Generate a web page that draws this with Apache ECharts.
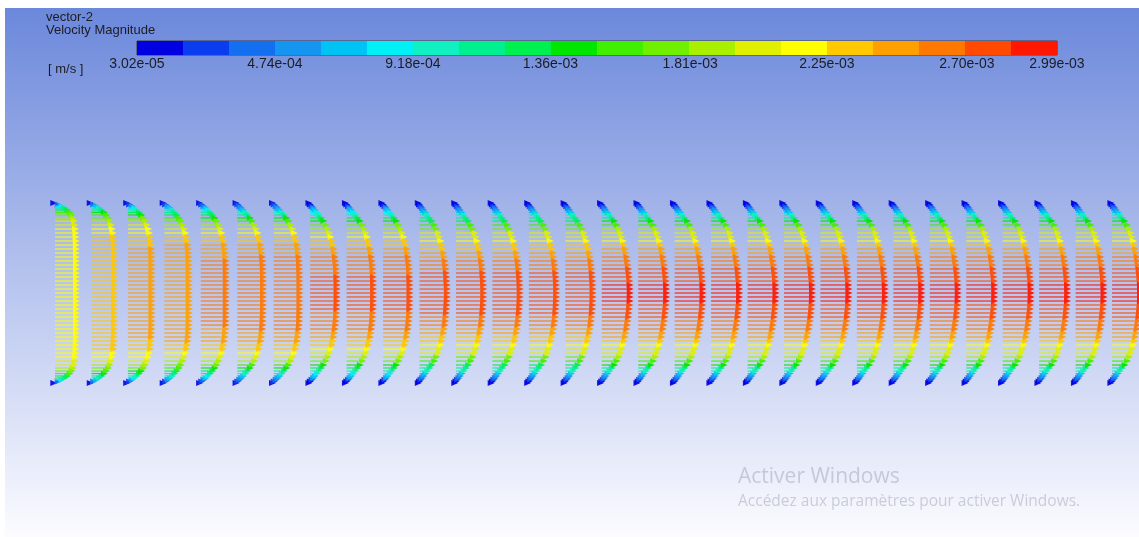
<!DOCTYPE html>
<html>
<head>
<meta charset="utf-8">
<title>vector-2 — Velocity Magnitude</title>
<script src="https://cdn.jsdelivr.net/npm/echarts@6/dist/echarts.min.js"></script>
<style>
  html, body { margin: 0; padding: 0; background: #ffffff; }
  #chart { width: 1139px; height: 537px; }
</style>
</head>
<body>
<div id="chart"></div>
<script>
// Streamwise positions of the vector stations (normalised by channel half-height)
const stationX = [0, 0.405, 0.81, 1.215, 1.62, 2.025, 2.43, 2.835, 3.24, 3.645,
  4.05, 4.455, 4.86, 5.265, 5.67, 6.075, 6.48, 6.885, 7.29, 7.695,
  8.1, 8.505, 8.91, 9.315, 9.72, 10.125, 10.53, 10.935, 11.34, 11.745];

// Mesh rows, distance from the wall as a fraction of half-height (wall = 0, centre = 1)
const rowFromWall = [0, 0.017, 0.035, 0.056, 0.078, 0.105, 0.133, 0.167, 0.2, 0.244,
  0.289, 0.333, 0.378, 0.422, 0.467, 0.511, 0.556, 0.6, 0.644, 0.689,
  0.733, 0.778, 0.822, 0.867, 0.911, 0.956, 1];

// Half-profiles of velocity magnitude [mm/s], wall to centreline, along the developing flow
const profileInlet = [0.03, 0.45, 0.8, 1.1, 1.35, 1.58, 1.76, 1.9, 2.0, 2.07, 2.11, 2.14, 2.16, 2.17, 2.18, 2.19, 2.19, 2.2, 2.2, 2.2, 2.2, 2.2, 2.2, 2.2, 2.2, 2.2, 2.2];
const profileEntry1 = [0.03, 0.35, 0.65, 0.92, 1.15, 1.38, 1.58, 1.78, 1.93, 2.06, 2.15, 2.22, 2.27, 2.3, 2.32, 2.33, 2.34, 2.35, 2.35, 2.35, 2.35, 2.35, 2.35, 2.35, 2.35, 2.35, 2.35];
const profileEntry2 = [0.03, 0.3, 0.56, 0.8, 1.02, 1.25, 1.45, 1.66, 1.83, 1.99, 2.12, 2.22, 2.3, 2.35, 2.39, 2.41, 2.43, 2.44, 2.45, 2.45, 2.45, 2.45, 2.45, 2.45, 2.45, 2.45, 2.45];
const profileEntry3 = [0.03, 0.26, 0.5, 0.72, 0.93, 1.15, 1.36, 1.58, 1.76, 1.94, 2.08, 2.2, 2.29, 2.36, 2.41, 2.45, 2.48, 2.5, 2.51, 2.52, 2.52, 2.52, 2.52, 2.52, 2.52, 2.52, 2.52];
const profileEntry4 = [0.03, 0.22, 0.44, 0.65, 0.86, 1.08, 1.29, 1.51, 1.7, 1.9, 2.05, 2.18, 2.28, 2.36, 2.42, 2.47, 2.51, 2.54, 2.56, 2.57, 2.58, 2.58, 2.58, 2.58, 2.58, 2.58, 2.58];
const profileEntry5 = [0.03, 0.19, 0.38, 0.56, 0.75, 0.96, 1.17, 1.39, 1.6, 1.82, 1.99, 2.13, 2.25, 2.34, 2.42, 2.48, 2.53, 2.57, 2.6, 2.62, 2.63, 2.64, 2.65, 2.65, 2.65, 2.65, 2.65];
const profileMid1 = [0.03, 0.16, 0.32, 0.48, 0.64, 0.83, 1.02, 1.24, 1.45, 1.68, 1.87, 2.02, 2.15, 2.26, 2.35, 2.43, 2.5, 2.55, 2.6, 2.64, 2.67, 2.69, 2.7, 2.71, 2.72, 2.72, 2.72];
const profileMid2 = [0.03, 0.14, 0.28, 0.42, 0.57, 0.74, 0.92, 1.14, 1.36, 1.6, 1.8, 1.96, 2.09, 2.2, 2.3, 2.39, 2.47, 2.54, 2.6, 2.65, 2.69, 2.72, 2.75, 2.77, 2.79, 2.8, 2.8];
const profileDeveloped = [0.03, 0.14, 0.28, 0.42, 0.56, 0.74, 0.92, 1.15, 1.38, 1.62, 1.82, 1.97, 2.1, 2.21, 2.31, 2.4, 2.48, 2.55, 2.61, 2.67, 2.72, 2.76, 2.8, 2.83, 2.85, 2.86, 2.87];

// Which half-profile applies at each station
const stationProfile = [
  profileInlet, profileEntry1, profileEntry2, profileEntry3, profileEntry4,
  profileEntry5, profileEntry5, profileMid1, profileMid1, profileMid1,
  profileMid2, profileMid2, profileMid2, profileMid2, profileMid2,
  profileDeveloped, profileDeveloped, profileDeveloped, profileDeveloped, profileDeveloped,
  profileDeveloped, profileDeveloped, profileDeveloped, profileDeveloped, profileDeveloped,
  profileDeveloped, profileDeveloped, profileDeveloped, profileDeveloped, profileDeveloped
];

// Colour legend: band edges [m/s], band colours, labelled values
const bandEdges = [3.02e-5, 1.78e-4, 3.26e-4, 4.74e-4, 6.22e-4, 7.70e-4, 9.18e-4, 1.066e-3,
  1.214e-3, 1.362e-3, 1.51e-3, 1.658e-3, 1.806e-3, 1.954e-3, 2.102e-3, 2.25e-3,
  2.398e-3, 2.546e-3, 2.694e-3, 2.842e-3, 2.99e-3];
const bandColors = ['#0000e0', '#0a3cf0', '#146ef0', '#1496f0', '#00c3f5', '#00f0f5',
  '#10f0c0', '#00f090', '#00f050', '#00e600', '#40f000', '#70f000', '#a8f000',
  '#e0f000', '#ffff00', '#ffc800', '#ffa000', '#ff7800', '#ff4a00', '#ff1800'];
const legendTicks = [3.02e-5, 4.74e-4, 9.18e-4, 1.36e-3, 1.81e-3, 2.25e-3, 2.70e-3, 2.99e-3];

const FONT = '"Liberation Sans", Arial, sans-serif';
const ARROW_SCALE = 116.7;   // x-units of arrow length per m/s

function bandColor(v) {
  for (let i = 0; i < bandColors.length; i++) {
    if (v <= bandEdges[i + 1]) return bandColors[i];
  }
  return bandColors[bandColors.length - 1];
}

function fmtExp(v) {
  return v.toExponential(2).replace(/e([+-])(\d)$/, 'e$10$2');
}

// Vector data: [x, y, speed m/s], top and bottom halves mirrored about the centreline
const vectors = [];
stationX.forEach((x, i) => {
  const prof = stationProfile[i];
  rowFromWall.forEach((d, r) => {
    const v = prof[r] * 1e-3;
    vectors.push([x, 1 - d, v]);
    if (d < 1) vectors.push([x, -(1 - d), v]);
  });
});
// draw slow (wall) vectors first so the core arrows sit on top
vectors.sort((a, b) => a[2] - b[2]);

const legendBands = bandColors.map((c, i) => [bandEdges[i], bandEdges[i + 1], i]);

const chart = echarts.init(document.getElementById('chart'), null, { renderer: 'canvas' });

const labelStyle = { fontSize: 13, fontWeight: 'normal', color: '#1c1c24', fontFamily: FONT };

chart.setOption({
  animation: false,
  backgroundColor: {
    type: 'linear', x: 0, y: 0, x2: 0, y2: 1,
    colorStops: [
      { offset: 0, color: '#6986da' },
      { offset: 0.5, color: '#b3c1ed' },
      { offset: 1, color: '#fcfcff' }
    ]
  },
  title: [
    { text: 'vector-2', left: 46, top: 11, padding: 0, textStyle: labelStyle },
    { text: 'Velocity Magnitude', left: 46, top: 24, padding: 0, textStyle: labelStyle },
    { text: '[ m/s ]', left: 48, top: 63, padding: 0, textStyle: labelStyle }
  ],
  grid: [
    { left: 55, right: 0, top: 203, bottom: 154, show: false },
    { left: 137, width: 920, top: 41, height: 14, show: true, borderColor: '#3c3c44', borderWidth: 1, backgroundColor: 'transparent' }
  ],
  xAxis: [
    { gridIndex: 0, type: 'value', min: 0, max: 1084 / 90, show: false },
    {
      gridIndex: 1, type: 'value', min: bandEdges[0], max: bandEdges[bandEdges.length - 1],
      axisLine: { show: false }, axisTick: { show: false }, splitLine: { show: false },
      axisLabel: {
        customValues: legendTicks, formatter: fmtExp, margin: 2,
        fontSize: 14, color: '#1c1c24', fontFamily: FONT,
        showMinLabel: true, showMaxLabel: true
      }
    }
  ],
  yAxis: [
    { gridIndex: 0, type: 'value', min: -1, max: 1, show: false },
    { gridIndex: 1, type: 'value', min: 0, max: 1, show: false }
  ],
  graphic: [
    { type: 'rect', left: 0, top: 0, shape: { width: 1139, height: 8 }, style: { fill: '#ffffff' }, silent: true },
    { type: 'rect', left: 0, top: 0, shape: { width: 5, height: 537 }, style: { fill: '#ffffff' }, silent: true },
    { type: 'text', left: 738, top: 467, silent: true,
      style: { text: 'Activer Windows', fill: 'rgba(150,156,170,0.45)', font: '21px "Open Sans", "Noto Sans", sans-serif' } },
    { type: 'text', left: 738, top: 494, silent: true,
      style: { text: 'Accédez aux paramètres pour activer Windows.', fill: 'rgba(150,156,170,0.45)', font: '15.5px "Open Sans", "Noto Sans", sans-serif' } }
  ],
  series: [
    {
      type: 'custom',
      name: 'Velocity Magnitude',
      coordinateSystem: 'cartesian2d',
      xAxisIndex: 0, yAxisIndex: 0,
      clip: false, silent: true,
      data: vectors,
      renderItem: function (params, api) {
        const x = api.value(0), y = api.value(1), v = api.value(2);
        const p0 = api.coord([x, y]);
        const p1 = api.coord([x + v * ARROW_SCALE, y]);
        const c = bandColor(v);
        const hl = 7, hw = 3, tip = p1[0] + 2;
        return {
          type: 'group',
          children: [
            { type: 'line', shape: { x1: p0[0], y1: p0[1], x2: p1[0], y2: p1[1] },
              style: { stroke: c, lineWidth: 1.2, opacity: 0.9 } },
            { type: 'polygon', shape: { points: [[tip, p1[1]], [tip - hl, p1[1] - hw], [tip - hl, p1[1] + hw]] },
              style: { fill: c, opacity: 0.9 } }
          ]
        };
      }
    },
    {
      type: 'custom',
      name: 'legend',
      coordinateSystem: 'cartesian2d',
      xAxisIndex: 1, yAxisIndex: 1,
      silent: true,
      data: legendBands,
      renderItem: function (params, api) {
        const a = api.coord([api.value(0), 1]);
        const b = api.coord([api.value(1), 0]);
        return {
          type: 'rect',
          shape: { x: a[0], y: a[1], width: b[0] - a[0] + 0.5, height: b[1] - a[1] },
          style: { fill: bandColors[api.value(2)] }
        };
      }
    }
  ]
});
</script>
</body>
</html>
